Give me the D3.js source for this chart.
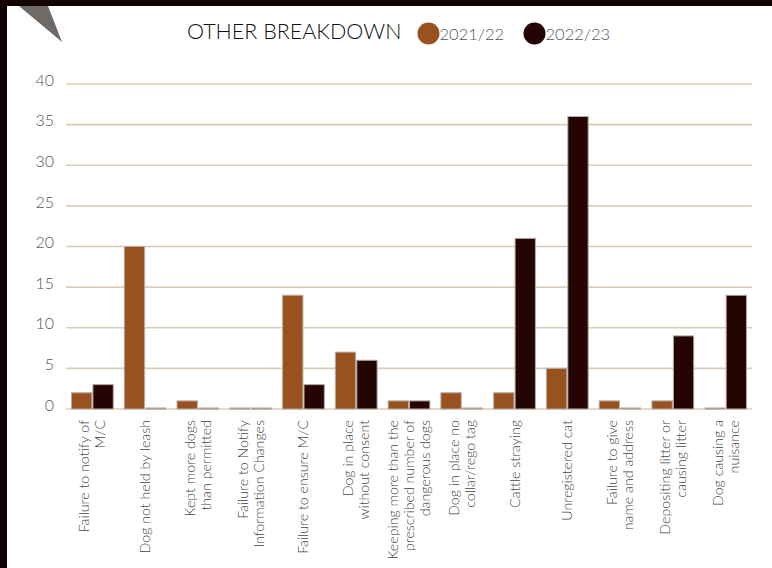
<!DOCTYPE html>
<html><head><meta charset="utf-8">
<script src="https://cdn.jsdelivr.net/npm/d3@7/dist/d3.min.js"></script>
<style>html,body{margin:0;padding:0;background:#fff;}svg{display:block;}</style>
</head><body>
<script>
const categories = [
  "Failure to notify of\nM/C",
  "Dog not held by leash",
  "Kept more dogs\nthan permitted",
  "Failure to Notify\nInformation Changes",
  "Failure to ensure M/C",
  "Dog in place\nwithout consent",
  "Keeping more than the\nprescribed number of\ndangerous dogs",
  "Dog in place no\ncollar/rego tag",
  "Cattle straying",
  "Unregistered cat",
  "Failure to give\nname and address",
  "Depositing litter or\ncausing litter",
  "Dog causing a\nnuisance"
];
const seriesNames = ["2021/22", "2022/23"];
const values2122 = [2, 20, 1, 0, 14, 7, 1, 2, 2, 5, 1, 1, 0];
const values2223 = [3, 0, 0, 0, 3, 6, 1, 0, 21, 36, 0, 9, 14];
const yTicks = [0, 5, 10, 15, 20, 25, 30, 35, 40];
const colors = ["#985220", "#250404"];

const W = 772, H = 568;
const svg = d3.select("body").append("svg").attr("width", W).attr("height", H);
const FONT = "Lato, 'Noto Sans', sans-serif";

// frame
svg.append("rect").attr("x",0).attr("y",0).attr("width",W).attr("height",6).attr("fill","#120302");
svg.append("rect").attr("x",0).attr("y",0).attr("width",7).attr("height",H).attr("fill","#120302");
svg.append("path").attr("d","M19,6 L48,6 L62,42 Z").attr("fill","#6f6a67");

const x0 = d3.scaleBand().domain(d3.range(categories.length)).range([66, 752]);
const x1 = d3.scaleBand().domain([0,1]).range([5.5, x0.bandwidth()-5.5]).paddingInner(0.05);
const y = d3.scaleLinear().domain([0, 40]).range([409, 84]);

// gridlines
svg.append("g").selectAll("line").data(yTicks).join("line")
  .attr("x1", 66).attr("x2", 752)
  .attr("y1", d => y(d)).attr("y2", d => y(d))
  .attr("stroke", "#d8ccba").attr("stroke-width", 1.6);

// y axis labels
const yAxis = d3.axisLeft(y).tickValues(yTicks).tickSize(0).tickPadding(0);
const ga = svg.append("g").attr("transform","translate(54,-4)").call(yAxis);
ga.select(".domain").remove();
ga.selectAll("text").attr("font-family", FONT).attr("font-weight",300).attr("font-size", 16).attr("fill","#555");

// bars
const data = categories.map((c,i) => [values2122[i], values2223[i]]);
const groups = svg.append("g").selectAll("g").data(data).join("g")
  .attr("transform", (d,i) => `translate(${x0(i)},0)`);
const items = groups.selectAll("g").data(d => d.map((v,k)=>({v,k}))).join("g");
items.filter(d => d.v > 0).append("rect")
  .attr("x", d => x1(d.k)).attr("width", x1.bandwidth())
  .attr("y", d => y(d.v)).attr("height", d => y(0) - y(d.v))
  .attr("fill", d => colors[d.k])
  .attr("stroke", "#b9aca0").attr("stroke-width", 1);
items.filter(d => d.v === 0).append("rect")
  .attr("x", d => x1(d.k)).attr("width", x1.bandwidth())
  .attr("y", y(0) - 1.5).attr("height", 2)
  .attr("fill", "#a89d94");

// x labels
const lh = 16;
const lab = svg.append("g").selectAll("g").data(categories).join("g")
  .attr("transform", (d,i) => `translate(${x0(i)+x0.bandwidth()/2},420) rotate(-90)`);
lab.each(function(d){
  const lines = d.split("\n");
  const n = lines.length;
  d3.select(this).selectAll("text").data(lines).join("text")
    .attr("x", 0)
    .attr("y", (l,j) => (j - (n-1)/2) * lh)
    .attr("dy", "0.35em")
    .attr("text-anchor", "end")
    .attr("font-family", FONT).attr("font-weight", 300).attr("font-size", 14.2)
    .attr("fill", "#444")
    .text(l => l);
});

// title
svg.append("text").attr("x", 187).attr("y", 39)
  .attr("font-family", FONT).attr("font-weight", 300).attr("font-size", 21.5)
  .attr("fill", "#111").text("OTHER BREAKDOWN");

// legend
const legX = [428.5, 534.5];
seriesNames.forEach((s,k) => {
  svg.append("circle").attr("cx", legX[k]).attr("cy", 33.5).attr("r", 11).attr("fill", colors[k]);
  svg.append("text").attr("x", legX[k] + 11).attr("y", 40)
    .attr("font-family", FONT).attr("font-weight", 300).attr("font-size", 16.5)
    .attr("fill", "#555").text(s);
});
</script>
</body></html>
